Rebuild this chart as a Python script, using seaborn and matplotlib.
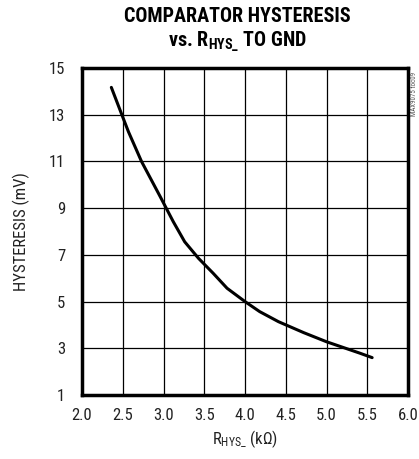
import matplotlib
matplotlib.use("Agg")
import matplotlib.pyplot as plt
import seaborn as sns
import pandas as pd

r_hys = [2.36, 2.49, 2.57, 2.73, 2.96, 3.12, 3.26, 3.43, 3.61, 3.78, 4.00, 4.18, 4.41, 4.72, 5.00, 5.41, 5.56]
hyst = [14.17, 12.99, 12.27, 11.0, 9.49, 8.42, 7.56, 6.85, 6.21, 5.57, 5.0, 4.57, 4.14, 3.67, 3.28, 2.79, 2.6]
xticks = [2.0, 2.5, 3.0, 3.5, 4.0, 4.5, 5.0, 5.5, 6.0]
yticks = [1, 3, 5, 7, 9, 11, 13, 15]

df = pd.DataFrame({"r": r_hys, "h": hyst})

sns.set_theme(style="white")
plt.rcParams['font.family'] = ['Roboto Condensed', 'DejaVu Sans']
plt.rcParams['mathtext.default'] = 'regular'

fig = plt.figure(figsize=(4.19, 4.59), dpi=100)
ax = fig.add_axes([82/419, 1-395/459, (408-82)/419, (395-68)/459])
sns.lineplot(data=df, x="r", y="h", ax=ax, color="black", linewidth=2.2)
ax.set_xlim(2.0, 6.0)
ax.set_ylim(1, 15)
ax.set_xticks(xticks)
ax.set_yticks(yticks)
ax.set_xticklabels([f"{v:.1f}" for v in xticks], fontsize=12)
ax.set_yticklabels([str(v) for v in yticks], fontsize=12)
ax.grid(True, color="black", linewidth=0.9)
for s in ax.spines.values():
    s.set_linewidth(2.5)
    s.set_color("black")
ax.tick_params(axis="y", length=0, pad=12, colors="#222222")
ax.tick_params(axis="x", length=0, pad=9, colors="#222222")
ax.set_xlabel(r"R$_{HYS\_}$ (k$\Omega$)", fontsize=12, color="#222222", labelpad=4)
ax.set_ylabel("HYSTERESIS (mV)", fontsize=12, color="#222222", labelpad=14)
fig.text(0.5 + 28/419, 1-17/459, "COMPARATOR HYSTERESIS", ha="center", va="center",
         fontsize=14.5, fontweight="bold", color="black")
fig.text(0.5 + 28/419, 1-42/459, r"vs. R$_{HYS\_}$ TO GND", ha="center", va="center",
         fontsize=14.5, fontweight="bold", color="black")
fig.text(414/419, 1-72/459, "MAX9075 toc09", rotation=90, ha="center", va="top",
         fontsize=5, color="#555555")
fig.savefig("out.png", dpi=100)
